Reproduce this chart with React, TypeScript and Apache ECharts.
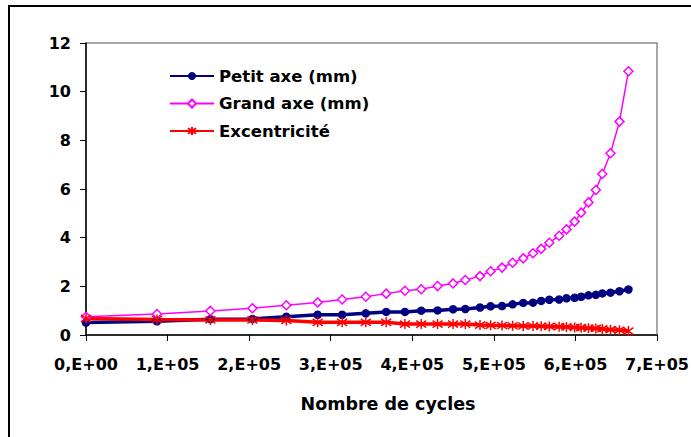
import { useEffect, useRef } from "react";
import * as echarts from "echarts";

const cycles = [0, 87000, 152500, 204000, 245600, 284000, 314000, 343000, 368000, 391000, 411000, 431000, 450000, 465000, 483000, 496000, 510000, 523000, 536000, 548000, 558000, 568000, 580000, 589000, 599000, 607000, 616000, 625000, 633000, 643000, 654000, 665000];
const petitAxe = [0.51, 0.56, 0.65, 0.66, 0.75, 0.83, 0.83, 0.89, 0.95, 0.95, 1.0, 1.01, 1.06, 1.07, 1.13, 1.18, 1.19, 1.26, 1.32, 1.33, 1.4, 1.45, 1.46, 1.51, 1.53, 1.57, 1.63, 1.65, 1.71, 1.74, 1.8, 1.87];
const grandAxe = [0.75, 0.86, 0.99, 1.1, 1.22, 1.34, 1.46, 1.57, 1.7, 1.82, 1.88, 2.01, 2.12, 2.26, 2.42, 2.62, 2.77, 2.97, 3.15, 3.36, 3.54, 3.79, 4.08, 4.34, 4.66, 5.03, 5.45, 5.96, 6.62, 7.47, 8.77, 10.84];
const excentricite = [0.68, 0.64, 0.62, 0.62, 0.6, 0.52, 0.52, 0.52, 0.52, 0.45, 0.45, 0.45, 0.45, 0.45, 0.41, 0.4, 0.39, 0.38, 0.37, 0.37, 0.36, 0.35, 0.34, 0.33, 0.31, 0.3, 0.28, 0.27, 0.25, 0.22, 0.2, 0.16];
const seriesNames = ["Petit axe (mm)", "Grand axe (mm)", "Excentricité"];
const xAxisTitle = "Nombre de cycles";

const FONT = '"DejaVu Sans", sans-serif';

export default function App() {
  const ref = useRef<HTMLDivElement>(null);
  useEffect(() => {
    if (!ref.current) return;
    const chart = echarts.init(ref.current, null, { renderer: "svg" });
    const zip = (ys: number[]) => cycles.map((x, i) => [x, ys[i]]);
    const legendCenters = [72.5, 100, 127.5];
    chart.setOption({
      animation: false,
      backgroundColor: "#ffffff",
      grid: {
        left: 86,
        top: 43,
        right: 34,
        bottom: 102,
        containLabel: false,
        outerBoundsMode: "none",
        show: true,
        borderColor: "#8c8c8c",
        borderWidth: 1.5,
      },
      legend: seriesNames.map((n, i) => ({
        data: [n],
        orient: "vertical",
        left: 169,
        top: legendCenters[i] - 5,
        itemWidth: 44,
        itemHeight: 10,
        itemGap: 0,
        padding: 0,
        selectedMode: false,
        textStyle: { fontFamily: FONT, fontWeight: "bold", fontSize: 16.5, color: "#000" },
      })),
      xAxis: {
        type: "value",
        min: 0,
        max: 700000,
        interval: 100000,
        splitLine: { show: false },
        axisLine: { show: true, lineStyle: { color: "#000", width: 1.5 } },
        axisTick: { show: true, inside: false, length: 6, lineStyle: { color: "#000", width: 1 } },
        axisLabel: {
          margin: 21,
          fontFamily: FONT,
          fontWeight: "bold",
          fontSize: 16,
          color: "#000",
          formatter: (v: number) => (v === 0 ? "0,E+00" : `${Math.round(v / 100000)},E+05`),
        },
      },
      yAxis: {
        type: "value",
        min: 0,
        max: 12,
        interval: 2,
        splitLine: { show: false },
        axisLine: { show: true, lineStyle: { color: "#000", width: 1.5 } },
        axisTick: { show: true, inside: false, length: 6, lineStyle: { color: "#000", width: 1 } },
        axisLabel: {
          margin: 15,
          fontFamily: FONT,
          fontWeight: "bold",
          fontSize: 16,
          color: "#000",
        },
      },
      graphic: [
        {
          type: "rect",
          z: -10,
          silent: true,
          shape: { x: 9, y: 6, width: 760, height: 480 },
          style: { fill: "none", stroke: "#000", lineWidth: 2 },
        },
        {
          type: "text",
          x: 388,
          y: 404,
          style: {
            text: xAxisTitle,
            fontFamily: FONT,
            fontWeight: "bold",
            fontSize: 17.5,
            fill: "#000",
            textAlign: "center",
            textVerticalAlign: "middle",
          },
        },
      ],
      series: [
        {
          name: seriesNames[0],
          type: "line",
          data: zip(petitAxe),
          symbol: "circle",
          symbolSize: 8.5,
          lineStyle: { color: "#000080", width: 3.5 },
          itemStyle: { color: "#000080" },
        },
        {
          name: seriesNames[1],
          type: "line",
          data: zip(grandAxe),
          symbol: "diamond",
          symbolSize: 9,
          lineStyle: { color: "#ff00ff", width: 1.5 },
          itemStyle: { color: "#ffffff", borderColor: "#ff00ff", borderWidth: 1.5 },
        },
        {
          name: seriesNames[2],
          type: "line",
          data: zip(excentricite),
          symbol: "path://M5,0L5,10M0.7,1.5L9.3,8.5M9.3,1.5L0.7,8.5",
          symbolSize: 10,
          lineStyle: { color: "#ff0000", width: 3.5 },
          itemStyle: { color: "#ff0000", borderColor: "#ff0000", borderWidth: 1.5 },
        },
      ],
    });
    return () => chart.dispose();
  }, []);
  return (
    <div
      ref={ref}
      style={{ position: "absolute", left: 0, top: 0, width: 691, height: 437, background: "#fff" }}
    />
  );
}
